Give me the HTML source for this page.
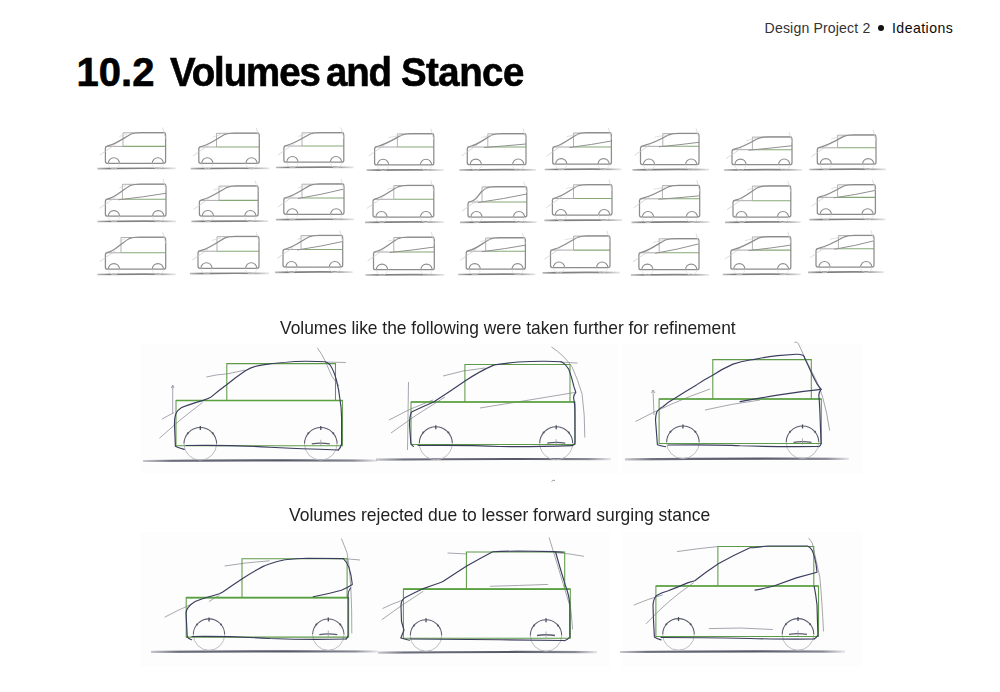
<!DOCTYPE html>
<html><head><meta charset="utf-8"><style>
html,body{margin:0;padding:0;background:#fff;}
body{width:1000px;height:692px;position:relative;overflow:hidden;font-family:"Liberation Sans",sans-serif;}
.t{position:absolute;white-space:pre;line-height:1;}
.h1{font-weight:bold;font-size:40px;color:#000;-webkit-text-stroke:0.6px #000;}
.cap{font-size:18.2px;color:#222;}
.hd{font-size:14.1px;}
.bg{position:absolute;background:#fdfdfd;}
svg{position:absolute;left:0;top:0;}
</style></head><body>
<div class="bg" style="left:141px;top:344px;width:250px;height:130px"></div>
<div class="bg" style="left:378px;top:344px;width:240px;height:130px"></div>
<div class="bg" style="left:622px;top:344px;width:240px;height:130px"></div>
<div class="bg" style="left:141px;top:532px;width:250px;height:135px"></div>
<div class="bg" style="left:378px;top:532px;width:232px;height:135px"></div>
<div class="bg" style="left:622px;top:532px;width:240px;height:135px"></div>
<div class="t hd" style="left:764.6px;top:21px;color:#333;letter-spacing:0.15px">Design Project 2</div>
<div style="position:absolute;left:878px;top:25px;width:6.2px;height:6.2px;border-radius:50%;background:#111"></div>
<div class="t hd" style="left:892px;top:21px;color:#0a0a0a;letter-spacing:0.45px">Ideations</div>
<div class="t h1" style="left:76.6px;top:52.3px">10.2</div>
<div class="t h1" style="left:170.2px;top:52.3px;letter-spacing:-1.1px;transform:scaleX(0.96);transform-origin:0 0">Volumes</div>
<div class="t h1" style="left:326px;top:52.3px;letter-spacing:-1.15px;transform:scaleX(0.96);transform-origin:0 0">and</div>
<div class="t h1" style="left:401px;top:52.3px;letter-spacing:-0.56px;transform:scaleX(0.96);transform-origin:0 0">Stance</div>
<div class="t cap" style="left:279.6px;top:319.1px;transform:scaleX(0.955);transform-origin:0 0">Volumes like the following were taken further for refinement</div>
<div class="t cap" style="left:289px;top:505.9px;transform:scaleX(0.962);transform-origin:0 0">Volumes rejected due to lesser forward surging stance</div>
<svg width="1000" height="692" viewBox="0 0 1000 692">
<defs><filter id="sb" x="-5%" y="-5%" width="110%" height="110%"><feGaussianBlur stdDeviation="0.35"/></filter><linearGradient id="sg" x1="0" y1="0" x2="1" y2="0"><stop offset="0" stop-color="#777" stop-opacity="0.5"/><stop offset="0.15" stop-color="#6e6e6e" stop-opacity="0.9"/><stop offset="0.75" stop-color="#747474" stop-opacity="0.85"/><stop offset="1" stop-color="#888" stop-opacity="0.2"/></linearGradient></defs>
<g filter="url(#sb)">
<path d="M97.4 168.6 Q135.5 168.0 175.6 168.4" stroke="url(#sg)" stroke-width="1.7" fill="none"/>
<path d="M123.0 146.4 L123.0 132.8 L164.6 132.8" stroke="#a8a8a8" stroke-width="0.9" fill="none"/>
<path d="M105.4 146.4 L123.0 146.4" stroke="#a0a0a0" stroke-width="0.9" fill="none"/>
<path d="M123.0 146.4 L165.6 146.4" stroke="#86a876" stroke-width="1.1" fill="none"/>
<path d="M107.4 163.3 Q105.4 163.3 105.4 161.3 L105.4 147.9 Q105.9 146.1 109.4 145.4 C115.4 144.2 123.0 138.5 131.0 134.0 Q135.0 132.5 141.0 132.5 L164.6 132.5 Q165.6 133.0 165.6 135.5 L165.6 161.3 Q165.6 163.3 163.6 163.3 Z" stroke="#8c8c8c" stroke-width="1.25" fill="none"/>
<path d="M108.3 163.3 A5.6 5.6 0 0 1 119.5 163.3" stroke="#8c8c8c" stroke-width="1.05" fill="none"/>
<path d="M108.3 163.3 A5.6 5.6 0 0 0 119.5 163.3" stroke="#dcdcdc" stroke-width="0.7" fill="none"/>
<path d="M152.2 163.3 A5.6 5.6 0 0 1 163.4 163.3" stroke="#8c8c8c" stroke-width="1.05" fill="none"/>
<path d="M152.2 163.3 A5.6 5.6 0 0 0 163.4 163.3" stroke="#dcdcdc" stroke-width="0.7" fill="none"/>
<path d="M99.4 155.4 L115.4 144.4" stroke="#cacaca" stroke-width="0.7" fill="none"/>
<path d="M119.4 136.5 L127.0 134.0" stroke="#d2d2d2" stroke-width="0.7" fill="none"/>
<path d="M162.6 127.5 L165.6 138.5" stroke="#d0d0d0" stroke-width="0.7" fill="none"/>
<path d="M190.8 168.6 Q229.1 168.0 269.3 168.4" stroke="url(#sg)" stroke-width="1.7" fill="none"/>
<path d="M216.5 147.0 L216.5 133.3 L258.3 133.3" stroke="#a8a8a8" stroke-width="0.9" fill="none"/>
<path d="M198.8 147.0 L216.5 147.0" stroke="#a0a0a0" stroke-width="0.9" fill="none"/>
<path d="M216.5 147.0 L259.3 147.0" stroke="#86a876" stroke-width="1.1" fill="none"/>
<path d="M200.8 163.3 Q198.8 163.3 198.8 161.3 L198.8 148.5 Q199.3 146.7 202.8 146.0 C208.8 144.8 216.5 139.0 224.5 134.5 Q228.5 133.0 234.5 133.0 L258.3 133.0 Q259.3 133.5 259.3 136.0 L259.3 161.3 Q259.3 163.3 257.3 163.3 Z" stroke="#8c8c8c" stroke-width="1.25" fill="none"/>
<path d="M201.7 163.3 A5.6 5.6 0 0 1 212.9 163.3" stroke="#8c8c8c" stroke-width="1.05" fill="none"/>
<path d="M201.7 163.3 A5.6 5.6 0 0 0 212.9 163.3" stroke="#dcdcdc" stroke-width="0.7" fill="none"/>
<path d="M245.9 163.3 A5.6 5.6 0 0 1 257.1 163.3" stroke="#8c8c8c" stroke-width="1.05" fill="none"/>
<path d="M245.9 163.3 A5.6 5.6 0 0 0 257.1 163.3" stroke="#dcdcdc" stroke-width="0.7" fill="none"/>
<path d="M192.8 156.0 L208.8 145.0" stroke="#cacaca" stroke-width="0.7" fill="none"/>
<path d="M212.8 137.0 L220.5 134.5" stroke="#d2d2d2" stroke-width="0.7" fill="none"/>
<path d="M256.3 128.0 L259.3 139.0" stroke="#d0d0d0" stroke-width="0.7" fill="none"/>
<path d="M275.9 167.5 Q313.9 166.9 353.8 167.3" stroke="url(#sg)" stroke-width="1.7" fill="none"/>
<path d="M302.0 146.0 L302.0 132.8 L342.8 132.8" stroke="#a8a8a8" stroke-width="0.9" fill="none"/>
<path d="M283.9 146.0 L302.0 146.0" stroke="#a0a0a0" stroke-width="0.9" fill="none"/>
<path d="M302.0 146.0 L343.8 146.0" stroke="#86a876" stroke-width="1.1" fill="none"/>
<path d="M285.9 162.2 Q283.9 162.2 283.9 160.2 L283.9 147.5 Q284.4 145.7 287.9 145.0 C293.9 143.8 302.0 138.5 310.0 134.0 Q314.0 132.5 320.0 132.5 L342.8 132.5 Q343.8 133.0 343.8 135.5 L343.8 160.2 Q343.8 162.2 341.8 162.2 Z" stroke="#8c8c8c" stroke-width="1.25" fill="none"/>
<path d="M286.8 162.2 A5.6 5.6 0 0 1 298.0 162.2" stroke="#8c8c8c" stroke-width="1.05" fill="none"/>
<path d="M286.8 162.2 A5.6 5.6 0 0 0 298.0 162.2" stroke="#dcdcdc" stroke-width="0.7" fill="none"/>
<path d="M330.4 162.2 A5.6 5.6 0 0 1 341.6 162.2" stroke="#8c8c8c" stroke-width="1.05" fill="none"/>
<path d="M330.4 162.2 A5.6 5.6 0 0 0 341.6 162.2" stroke="#dcdcdc" stroke-width="0.7" fill="none"/>
<path d="M277.9 155.0 L293.9 144.0" stroke="#cacaca" stroke-width="0.7" fill="none"/>
<path d="M297.9 136.5 L306.0 134.0" stroke="#d2d2d2" stroke-width="0.7" fill="none"/>
<path d="M340.8 127.5 L343.8 138.5" stroke="#d0d0d0" stroke-width="0.7" fill="none"/>
<path d="M97.4 221.5 Q135.7 220.9 176.0 221.3" stroke="url(#sg)" stroke-width="1.7" fill="none"/>
<path d="M122.4 199.3 L122.4 184.3 L165.0 184.3" stroke="#a8a8a8" stroke-width="0.9" fill="none"/>
<path d="M105.4 199.3 L122.4 199.3" stroke="#a0a0a0" stroke-width="0.9" fill="none"/>
<path d="M122.4 199.3 L166.0 199.3" stroke="#86a876" stroke-width="1.1" fill="none"/>
<path d="M118.4 199.8 Q144.2 196.9 166.0 193.3" stroke="#909090" stroke-width="1" fill="none"/>
<path d="M107.4 216.2 Q105.4 216.2 105.4 214.2 L105.4 200.8 Q105.9 199.0 109.4 198.3 C115.4 197.1 122.4 190.0 130.4 185.5 Q134.4 184.0 140.4 184.0 L165.0 184.0 Q166.0 184.5 166.0 187.0 L166.0 214.2 Q166.0 216.2 164.0 216.2 Z" stroke="#8c8c8c" stroke-width="1.25" fill="none"/>
<path d="M108.3 216.2 A5.6 5.6 0 0 1 119.5 216.2" stroke="#8c8c8c" stroke-width="1.05" fill="none"/>
<path d="M108.3 216.2 A5.6 5.6 0 0 0 119.5 216.2" stroke="#dcdcdc" stroke-width="0.7" fill="none"/>
<path d="M152.6 216.2 A5.6 5.6 0 0 1 163.8 216.2" stroke="#8c8c8c" stroke-width="1.05" fill="none"/>
<path d="M152.6 216.2 A5.6 5.6 0 0 0 163.8 216.2" stroke="#dcdcdc" stroke-width="0.7" fill="none"/>
<path d="M99.4 208.3 L115.4 197.3" stroke="#cacaca" stroke-width="0.7" fill="none"/>
<path d="M119.4 188.0 L126.4 185.5" stroke="#d2d2d2" stroke-width="0.7" fill="none"/>
<path d="M163.0 179.0 L166.0 190.0" stroke="#d0d0d0" stroke-width="0.7" fill="none"/>
<path d="M191.4 221.4 Q228.8 220.8 268.2 221.2" stroke="url(#sg)" stroke-width="1.7" fill="none"/>
<path d="M219.0 200.4 L219.0 186.1 L257.2 186.1" stroke="#a8a8a8" stroke-width="0.9" fill="none"/>
<path d="M199.4 200.4 L219.0 200.4" stroke="#a0a0a0" stroke-width="0.9" fill="none"/>
<path d="M219.0 200.4 L258.2 200.4" stroke="#86a876" stroke-width="1.1" fill="none"/>
<path d="M201.4 216.1 Q199.4 216.1 199.4 214.1 L199.4 201.9 Q199.9 200.1 203.4 199.4 C209.4 198.2 219.0 191.8 227.0 187.3 Q231.0 185.8 237.0 185.8 L257.2 185.8 Q258.2 186.3 258.2 188.8 L258.2 214.1 Q258.2 216.1 256.2 216.1 Z" stroke="#8c8c8c" stroke-width="1.25" fill="none"/>
<path d="M202.3 216.1 A5.6 5.6 0 0 1 213.5 216.1" stroke="#8c8c8c" stroke-width="1.05" fill="none"/>
<path d="M202.3 216.1 A5.6 5.6 0 0 0 213.5 216.1" stroke="#dcdcdc" stroke-width="0.7" fill="none"/>
<path d="M244.8 216.1 A5.6 5.6 0 0 1 256.0 216.1" stroke="#8c8c8c" stroke-width="1.05" fill="none"/>
<path d="M244.8 216.1 A5.6 5.6 0 0 0 256.0 216.1" stroke="#dcdcdc" stroke-width="0.7" fill="none"/>
<path d="M193.4 209.4 L209.4 198.4" stroke="#cacaca" stroke-width="0.7" fill="none"/>
<path d="M213.4 189.8 L223.0 187.3" stroke="#d2d2d2" stroke-width="0.7" fill="none"/>
<path d="M255.2 180.8 L258.2 191.8" stroke="#d0d0d0" stroke-width="0.7" fill="none"/>
<path d="M275.8 219.6 Q313.9 219.0 354.0 219.4" stroke="url(#sg)" stroke-width="1.7" fill="none"/>
<path d="M302.0 198.0 L302.0 184.2 L343.0 184.2" stroke="#a8a8a8" stroke-width="0.9" fill="none"/>
<path d="M283.8 198.0 L302.0 198.0" stroke="#a0a0a0" stroke-width="0.9" fill="none"/>
<path d="M302.0 198.0 L344.0 198.0" stroke="#86a876" stroke-width="1.1" fill="none"/>
<path d="M298.0 198.5 Q323.0 194.4 344.0 189.0" stroke="#909090" stroke-width="1" fill="none"/>
<path d="M285.8 214.3 Q283.8 214.3 283.8 212.3 L283.8 199.5 Q284.3 197.7 287.8 197.0 C293.8 195.8 302.0 189.9 310.0 185.4 Q314.0 183.9 320.0 183.9 L343.0 183.9 Q344.0 184.4 344.0 186.9 L344.0 212.3 Q344.0 214.3 342.0 214.3 Z" stroke="#8c8c8c" stroke-width="1.25" fill="none"/>
<path d="M286.7 214.3 A5.6 5.6 0 0 1 297.9 214.3" stroke="#8c8c8c" stroke-width="1.05" fill="none"/>
<path d="M286.7 214.3 A5.6 5.6 0 0 0 297.9 214.3" stroke="#dcdcdc" stroke-width="0.7" fill="none"/>
<path d="M330.6 214.3 A5.6 5.6 0 0 1 341.8 214.3" stroke="#8c8c8c" stroke-width="1.05" fill="none"/>
<path d="M330.6 214.3 A5.6 5.6 0 0 0 341.8 214.3" stroke="#dcdcdc" stroke-width="0.7" fill="none"/>
<path d="M277.8 207.0 L293.8 196.0" stroke="#cacaca" stroke-width="0.7" fill="none"/>
<path d="M297.8 187.9 L306.0 185.4" stroke="#d2d2d2" stroke-width="0.7" fill="none"/>
<path d="M341.0 178.9 L344.0 189.9" stroke="#d0d0d0" stroke-width="0.7" fill="none"/>
<path d="M97.4 274.5 Q135.6 273.9 175.7 274.3" stroke="url(#sg)" stroke-width="1.7" fill="none"/>
<path d="M121.0 252.8 L121.0 237.5 L164.7 237.5" stroke="#a8a8a8" stroke-width="0.9" fill="none"/>
<path d="M105.4 252.8 L121.0 252.8" stroke="#a0a0a0" stroke-width="0.9" fill="none"/>
<path d="M121.0 252.8 L165.7 252.8" stroke="#86a876" stroke-width="1.1" fill="none"/>
<path d="M107.4 269.2 Q105.4 269.2 105.4 267.2 L105.4 254.3 Q105.9 252.5 109.4 251.8 C115.4 250.6 121.0 243.2 129.0 238.7 Q133.0 237.2 139.0 237.2 L164.7 237.2 Q165.7 237.7 165.7 240.2 L165.7 267.2 Q165.7 269.2 163.7 269.2 Z" stroke="#8c8c8c" stroke-width="1.25" fill="none"/>
<path d="M108.3 269.2 A5.6 5.6 0 0 1 119.5 269.2" stroke="#8c8c8c" stroke-width="1.05" fill="none"/>
<path d="M108.3 269.2 A5.6 5.6 0 0 0 119.5 269.2" stroke="#dcdcdc" stroke-width="0.7" fill="none"/>
<path d="M152.3 269.2 A5.6 5.6 0 0 1 163.5 269.2" stroke="#8c8c8c" stroke-width="1.05" fill="none"/>
<path d="M152.3 269.2 A5.6 5.6 0 0 0 163.5 269.2" stroke="#dcdcdc" stroke-width="0.7" fill="none"/>
<path d="M99.4 261.8 L115.4 250.8" stroke="#cacaca" stroke-width="0.7" fill="none"/>
<path d="M119.4 241.2 L125.0 238.7" stroke="#d2d2d2" stroke-width="0.7" fill="none"/>
<path d="M162.7 232.2 L165.7 243.2" stroke="#d0d0d0" stroke-width="0.7" fill="none"/>
<path d="M190.0 273.6 Q228.5 273.0 269.0 273.4" stroke="url(#sg)" stroke-width="1.7" fill="none"/>
<path d="M217.0 251.2 L217.0 236.7 L258.0 236.7" stroke="#a8a8a8" stroke-width="0.9" fill="none"/>
<path d="M198.0 251.2 L217.0 251.2" stroke="#a0a0a0" stroke-width="0.9" fill="none"/>
<path d="M217.0 251.2 L259.0 251.2" stroke="#86a876" stroke-width="1.1" fill="none"/>
<path d="M200.0 268.3 Q198.0 268.3 198.0 266.3 L198.0 252.7 Q198.5 250.9 202.0 250.2 C208.0 249.0 217.0 242.4 225.0 237.9 Q229.0 236.4 235.0 236.4 L258.0 236.4 Q259.0 236.9 259.0 239.4 L259.0 266.3 Q259.0 268.3 257.0 268.3 Z" stroke="#8c8c8c" stroke-width="1.25" fill="none"/>
<path d="M200.9 268.3 A5.6 5.6 0 0 1 212.1 268.3" stroke="#8c8c8c" stroke-width="1.05" fill="none"/>
<path d="M200.9 268.3 A5.6 5.6 0 0 0 212.1 268.3" stroke="#dcdcdc" stroke-width="0.7" fill="none"/>
<path d="M245.6 268.3 A5.6 5.6 0 0 1 256.8 268.3" stroke="#8c8c8c" stroke-width="1.05" fill="none"/>
<path d="M245.6 268.3 A5.6 5.6 0 0 0 256.8 268.3" stroke="#dcdcdc" stroke-width="0.7" fill="none"/>
<path d="M192.0 260.2 L208.0 249.2" stroke="#cacaca" stroke-width="0.7" fill="none"/>
<path d="M212.0 240.4 L221.0 237.9" stroke="#d2d2d2" stroke-width="0.7" fill="none"/>
<path d="M256.0 231.4 L259.0 242.4" stroke="#d0d0d0" stroke-width="0.7" fill="none"/>
<path d="M275.0 272.3 Q312.9 271.7 352.7 272.1" stroke="url(#sg)" stroke-width="1.7" fill="none"/>
<path d="M301.0 249.5 L301.0 235.6 L341.7 235.6" stroke="#a8a8a8" stroke-width="0.9" fill="none"/>
<path d="M283.0 249.5 L301.0 249.5" stroke="#a0a0a0" stroke-width="0.9" fill="none"/>
<path d="M301.0 249.5 L342.7 249.5" stroke="#86a876" stroke-width="1.1" fill="none"/>
<path d="M297.0 250.0 Q321.9 246.3 342.7 241.5" stroke="#909090" stroke-width="1" fill="none"/>
<path d="M285.0 267.0 Q283.0 267.0 283.0 265.0 L283.0 251.0 Q283.5 249.2 287.0 248.5 C293.0 247.3 301.0 241.3 309.0 236.8 Q313.0 235.3 319.0 235.3 L341.7 235.3 Q342.7 235.8 342.7 238.3 L342.7 265.0 Q342.7 267.0 340.7 267.0 Z" stroke="#8c8c8c" stroke-width="1.25" fill="none"/>
<path d="M285.9 267.0 A5.6 5.6 0 0 1 297.1 267.0" stroke="#8c8c8c" stroke-width="1.05" fill="none"/>
<path d="M285.9 267.0 A5.6 5.6 0 0 0 297.1 267.0" stroke="#dcdcdc" stroke-width="0.7" fill="none"/>
<path d="M329.3 267.0 A5.6 5.6 0 0 1 340.5 267.0" stroke="#8c8c8c" stroke-width="1.05" fill="none"/>
<path d="M329.3 267.0 A5.6 5.6 0 0 0 340.5 267.0" stroke="#dcdcdc" stroke-width="0.7" fill="none"/>
<path d="M277.0 258.5 L293.0 247.5" stroke="#cacaca" stroke-width="0.7" fill="none"/>
<path d="M297.0 239.3 L305.0 236.8" stroke="#d2d2d2" stroke-width="0.7" fill="none"/>
<path d="M339.7 230.3 L342.7 241.3" stroke="#d0d0d0" stroke-width="0.7" fill="none"/>
<path d="M366.6 170.2 Q404.2 169.6 443.8 170.0" stroke="url(#sg)" stroke-width="1.7" fill="none"/>
<path d="M397.4 147.0 L397.4 133.9 L432.8 133.9" stroke="#a8a8a8" stroke-width="0.9" fill="none"/>
<path d="M374.6 147.0 L397.4 147.0" stroke="#a0a0a0" stroke-width="0.9" fill="none"/>
<path d="M397.4 147.0 L433.8 147.0" stroke="#86a876" stroke-width="1.1" fill="none"/>
<path d="M376.6 164.9 Q374.6 164.9 374.6 162.9 L374.6 148.5 Q375.1 146.7 378.6 146.0 C384.6 144.8 393.4 139.6 401.4 135.1 Q405.4 133.6 411.4 133.6 L432.8 133.6 Q433.8 134.1 433.8 136.6 L433.8 162.9 Q433.8 164.9 431.8 164.9 Z" stroke="#8c8c8c" stroke-width="1.25" fill="none"/>
<path d="M377.5 164.9 A5.6 5.6 0 0 1 388.7 164.9" stroke="#8c8c8c" stroke-width="1.05" fill="none"/>
<path d="M377.5 164.9 A5.6 5.6 0 0 0 388.7 164.9" stroke="#dcdcdc" stroke-width="0.7" fill="none"/>
<path d="M420.4 164.9 A5.6 5.6 0 0 1 431.6 164.9" stroke="#8c8c8c" stroke-width="1.05" fill="none"/>
<path d="M420.4 164.9 A5.6 5.6 0 0 0 431.6 164.9" stroke="#dcdcdc" stroke-width="0.7" fill="none"/>
<path d="M368.6 156.0 L384.6 145.0" stroke="#cacaca" stroke-width="0.7" fill="none"/>
<path d="M388.6 137.6 L401.4 135.1" stroke="#d2d2d2" stroke-width="0.7" fill="none"/>
<path d="M430.8 128.6 L433.8 139.6" stroke="#d0d0d0" stroke-width="0.7" fill="none"/>
<path d="M459.3 170.0 Q496.6 169.4 536.0 169.8" stroke="url(#sg)" stroke-width="1.7" fill="none"/>
<path d="M487.8 147.0 L487.8 133.8 L525.0 133.8" stroke="#a8a8a8" stroke-width="0.9" fill="none"/>
<path d="M467.3 147.0 L487.8 147.0" stroke="#a0a0a0" stroke-width="0.9" fill="none"/>
<path d="M487.8 147.0 L526.0 147.0" stroke="#86a876" stroke-width="1.1" fill="none"/>
<path d="M483.8 147.5 Q506.9 145.8 526.0 144.0" stroke="#909090" stroke-width="1" fill="none"/>
<path d="M469.3 164.7 Q467.3 164.7 467.3 162.7 L467.3 148.5 Q467.8 146.7 471.3 146.0 C477.3 144.8 483.8 139.5 491.8 135.0 Q495.8 133.5 501.8 133.5 L525.0 133.5 Q526.0 134.0 526.0 136.5 L526.0 162.7 Q526.0 164.7 524.0 164.7 Z" stroke="#8c8c8c" stroke-width="1.25" fill="none"/>
<path d="M470.2 164.7 A5.6 5.6 0 0 1 481.4 164.7" stroke="#8c8c8c" stroke-width="1.05" fill="none"/>
<path d="M470.2 164.7 A5.6 5.6 0 0 0 481.4 164.7" stroke="#dcdcdc" stroke-width="0.7" fill="none"/>
<path d="M512.6 164.7 A5.6 5.6 0 0 1 523.8 164.7" stroke="#8c8c8c" stroke-width="1.05" fill="none"/>
<path d="M512.6 164.7 A5.6 5.6 0 0 0 523.8 164.7" stroke="#dcdcdc" stroke-width="0.7" fill="none"/>
<path d="M461.3 156.0 L477.3 145.0" stroke="#cacaca" stroke-width="0.7" fill="none"/>
<path d="M481.3 137.5 L491.8 135.0" stroke="#d2d2d2" stroke-width="0.7" fill="none"/>
<path d="M523.0 128.5 L526.0 139.5" stroke="#d0d0d0" stroke-width="0.7" fill="none"/>
<path d="M544.7 169.5 Q582.0 168.9 621.4 169.3" stroke="url(#sg)" stroke-width="1.7" fill="none"/>
<path d="M573.5 147.0 L573.5 133.0 L610.4 133.0" stroke="#a8a8a8" stroke-width="0.9" fill="none"/>
<path d="M552.7 147.0 L573.5 147.0" stroke="#a0a0a0" stroke-width="0.9" fill="none"/>
<path d="M573.5 147.0 L611.4 147.0" stroke="#86a876" stroke-width="1.1" fill="none"/>
<path d="M569.5 147.5 Q592.5 144.6 611.4 141.0" stroke="#909090" stroke-width="1" fill="none"/>
<path d="M554.7 164.2 Q552.7 164.2 552.7 162.2 L552.7 148.5 Q553.2 146.7 556.7 146.0 C562.7 144.8 569.5 138.7 577.5 134.2 Q581.5 132.7 587.5 132.7 L610.4 132.7 Q611.4 133.2 611.4 135.7 L611.4 162.2 Q611.4 164.2 609.4 164.2 Z" stroke="#8c8c8c" stroke-width="1.25" fill="none"/>
<path d="M555.6 164.2 A5.6 5.6 0 0 1 566.8 164.2" stroke="#8c8c8c" stroke-width="1.05" fill="none"/>
<path d="M555.6 164.2 A5.6 5.6 0 0 0 566.8 164.2" stroke="#dcdcdc" stroke-width="0.7" fill="none"/>
<path d="M598.0 164.2 A5.6 5.6 0 0 1 609.2 164.2" stroke="#8c8c8c" stroke-width="1.05" fill="none"/>
<path d="M598.0 164.2 A5.6 5.6 0 0 0 609.2 164.2" stroke="#dcdcdc" stroke-width="0.7" fill="none"/>
<path d="M546.7 156.0 L562.7 145.0" stroke="#cacaca" stroke-width="0.7" fill="none"/>
<path d="M566.7 136.7 L577.5 134.2" stroke="#d2d2d2" stroke-width="0.7" fill="none"/>
<path d="M608.4 127.7 L611.4 138.7" stroke="#d0d0d0" stroke-width="0.7" fill="none"/>
<path d="M365.0 222.3 Q403.4 221.7 443.8 222.1" stroke="url(#sg)" stroke-width="1.7" fill="none"/>
<path d="M393.8 199.3 L393.8 185.6 L432.8 185.6" stroke="#a8a8a8" stroke-width="0.9" fill="none"/>
<path d="M373.0 199.3 L393.8 199.3" stroke="#a0a0a0" stroke-width="0.9" fill="none"/>
<path d="M393.8 199.3 L433.8 199.3" stroke="#86a876" stroke-width="1.1" fill="none"/>
<path d="M375.0 217.0 Q373.0 217.0 373.0 215.0 L373.0 200.8 Q373.5 199.0 377.0 198.3 C383.0 197.1 389.8 191.3 397.8 186.8 Q401.8 185.3 407.8 185.3 L432.8 185.3 Q433.8 185.8 433.8 188.3 L433.8 215.0 Q433.8 217.0 431.8 217.0 Z" stroke="#8c8c8c" stroke-width="1.25" fill="none"/>
<path d="M375.9 217.0 A5.6 5.6 0 0 1 387.1 217.0" stroke="#8c8c8c" stroke-width="1.05" fill="none"/>
<path d="M375.9 217.0 A5.6 5.6 0 0 0 387.1 217.0" stroke="#dcdcdc" stroke-width="0.7" fill="none"/>
<path d="M420.4 217.0 A5.6 5.6 0 0 1 431.6 217.0" stroke="#8c8c8c" stroke-width="1.05" fill="none"/>
<path d="M420.4 217.0 A5.6 5.6 0 0 0 431.6 217.0" stroke="#dcdcdc" stroke-width="0.7" fill="none"/>
<path d="M367.0 208.3 L383.0 197.3" stroke="#cacaca" stroke-width="0.7" fill="none"/>
<path d="M387.0 189.3 L397.8 186.8" stroke="#d2d2d2" stroke-width="0.7" fill="none"/>
<path d="M430.8 180.3 L433.8 191.3" stroke="#d0d0d0" stroke-width="0.7" fill="none"/>
<path d="M460.0 222.3 Q497.4 221.7 536.8 222.1" stroke="url(#sg)" stroke-width="1.7" fill="none"/>
<path d="M482.0 202.0 L482.0 186.9 L525.8 186.9" stroke="#a8a8a8" stroke-width="0.9" fill="none"/>
<path d="M468.0 202.0 L482.0 202.0" stroke="#a0a0a0" stroke-width="0.9" fill="none"/>
<path d="M482.0 202.0 L526.8 202.0" stroke="#86a876" stroke-width="1.1" fill="none"/>
<path d="M478.0 202.5 Q504.4 198.8 526.8 194.0" stroke="#909090" stroke-width="1" fill="none"/>
<path d="M470.0 217.0 Q468.0 217.0 468.0 215.0 L468.0 203.5 Q468.5 201.7 472.0 201.0 C478.0 199.8 478.0 192.6 486.0 188.1 Q490.0 186.6 496.0 186.6 L525.8 186.6 Q526.8 187.1 526.8 189.6 L526.8 215.0 Q526.8 217.0 524.8 217.0 Z" stroke="#8c8c8c" stroke-width="1.25" fill="none"/>
<path d="M470.9 217.0 A5.6 5.6 0 0 1 482.1 217.0" stroke="#8c8c8c" stroke-width="1.05" fill="none"/>
<path d="M470.9 217.0 A5.6 5.6 0 0 0 482.1 217.0" stroke="#dcdcdc" stroke-width="0.7" fill="none"/>
<path d="M513.4 217.0 A5.6 5.6 0 0 1 524.6 217.0" stroke="#8c8c8c" stroke-width="1.05" fill="none"/>
<path d="M513.4 217.0 A5.6 5.6 0 0 0 524.6 217.0" stroke="#dcdcdc" stroke-width="0.7" fill="none"/>
<path d="M462.0 211.0 L478.0 200.0" stroke="#cacaca" stroke-width="0.7" fill="none"/>
<path d="M482.0 190.6 L486.0 188.1" stroke="#d2d2d2" stroke-width="0.7" fill="none"/>
<path d="M523.8 181.6 L526.8 192.6" stroke="#d0d0d0" stroke-width="0.7" fill="none"/>
<path d="M544.4 220.4 Q582.2 219.8 622.0 220.2" stroke="url(#sg)" stroke-width="1.7" fill="none"/>
<path d="M573.5 198.5 L573.5 184.8 L611.0 184.8" stroke="#a8a8a8" stroke-width="0.9" fill="none"/>
<path d="M552.4 198.5 L573.5 198.5" stroke="#a0a0a0" stroke-width="0.9" fill="none"/>
<path d="M573.5 198.5 L612.0 198.5" stroke="#86a876" stroke-width="1.1" fill="none"/>
<path d="M554.4 215.1 Q552.4 215.1 552.4 213.1 L552.4 200.0 Q552.9 198.2 556.4 197.5 C562.4 196.3 569.5 190.5 577.5 186.0 Q581.5 184.5 587.5 184.5 L611.0 184.5 Q612.0 185.0 612.0 187.5 L612.0 213.1 Q612.0 215.1 610.0 215.1 Z" stroke="#8c8c8c" stroke-width="1.25" fill="none"/>
<path d="M555.3 215.1 A5.6 5.6 0 0 1 566.5 215.1" stroke="#8c8c8c" stroke-width="1.05" fill="none"/>
<path d="M555.3 215.1 A5.6 5.6 0 0 0 566.5 215.1" stroke="#dcdcdc" stroke-width="0.7" fill="none"/>
<path d="M598.6 215.1 A5.6 5.6 0 0 1 609.8 215.1" stroke="#8c8c8c" stroke-width="1.05" fill="none"/>
<path d="M598.6 215.1 A5.6 5.6 0 0 0 609.8 215.1" stroke="#dcdcdc" stroke-width="0.7" fill="none"/>
<path d="M546.4 207.5 L562.4 196.5" stroke="#cacaca" stroke-width="0.7" fill="none"/>
<path d="M566.4 188.5 L577.5 186.0" stroke="#d2d2d2" stroke-width="0.7" fill="none"/>
<path d="M609.0 179.5 L612.0 190.5" stroke="#d0d0d0" stroke-width="0.7" fill="none"/>
<path d="M365.5 275.0 Q403.9 274.4 444.3 274.8" stroke="url(#sg)" stroke-width="1.7" fill="none"/>
<path d="M393.8 252.0 L393.8 237.5 L433.3 237.5" stroke="#a8a8a8" stroke-width="0.9" fill="none"/>
<path d="M373.5 252.0 L393.8 252.0" stroke="#a0a0a0" stroke-width="0.9" fill="none"/>
<path d="M393.8 252.0 L434.3 252.0" stroke="#86a876" stroke-width="1.1" fill="none"/>
<path d="M389.8 252.5 Q414.1 250.0 434.3 247.0" stroke="#909090" stroke-width="1" fill="none"/>
<path d="M375.5 269.7 Q373.5 269.7 373.5 267.7 L373.5 253.5 Q374.0 251.7 377.5 251.0 C383.5 249.8 389.8 243.2 397.8 238.7 Q401.8 237.2 407.8 237.2 L433.3 237.2 Q434.3 237.7 434.3 240.2 L434.3 267.7 Q434.3 269.7 432.3 269.7 Z" stroke="#8c8c8c" stroke-width="1.25" fill="none"/>
<path d="M376.4 269.7 A5.6 5.6 0 0 1 387.6 269.7" stroke="#8c8c8c" stroke-width="1.05" fill="none"/>
<path d="M376.4 269.7 A5.6 5.6 0 0 0 387.6 269.7" stroke="#dcdcdc" stroke-width="0.7" fill="none"/>
<path d="M420.9 269.7 A5.6 5.6 0 0 1 432.1 269.7" stroke="#8c8c8c" stroke-width="1.05" fill="none"/>
<path d="M420.9 269.7 A5.6 5.6 0 0 0 432.1 269.7" stroke="#dcdcdc" stroke-width="0.7" fill="none"/>
<path d="M367.5 261.0 L383.5 250.0" stroke="#cacaca" stroke-width="0.7" fill="none"/>
<path d="M387.5 241.2 L397.8 238.7" stroke="#d2d2d2" stroke-width="0.7" fill="none"/>
<path d="M431.3 232.2 L434.3 243.2" stroke="#d0d0d0" stroke-width="0.7" fill="none"/>
<path d="M458.2 274.5 Q495.8 273.9 535.4 274.3" stroke="url(#sg)" stroke-width="1.7" fill="none"/>
<path d="M485.7 251.2 L485.7 238.0 L524.4 238.0" stroke="#a8a8a8" stroke-width="0.9" fill="none"/>
<path d="M466.2 251.2 L485.7 251.2" stroke="#a0a0a0" stroke-width="0.9" fill="none"/>
<path d="M485.7 251.2 L525.4 251.2" stroke="#86a876" stroke-width="1.1" fill="none"/>
<path d="M481.7 251.7 Q505.5 248.8 525.4 245.2" stroke="#909090" stroke-width="1" fill="none"/>
<path d="M468.2 269.2 Q466.2 269.2 466.2 267.2 L466.2 252.7 Q466.7 250.9 470.2 250.2 C476.2 249.0 481.7 243.7 489.7 239.2 Q493.7 237.7 499.7 237.7 L524.4 237.7 Q525.4 238.2 525.4 240.7 L525.4 267.2 Q525.4 269.2 523.4 269.2 Z" stroke="#8c8c8c" stroke-width="1.25" fill="none"/>
<path d="M469.1 269.2 A5.6 5.6 0 0 1 480.3 269.2" stroke="#8c8c8c" stroke-width="1.05" fill="none"/>
<path d="M469.1 269.2 A5.6 5.6 0 0 0 480.3 269.2" stroke="#dcdcdc" stroke-width="0.7" fill="none"/>
<path d="M512.0 269.2 A5.6 5.6 0 0 1 523.2 269.2" stroke="#8c8c8c" stroke-width="1.05" fill="none"/>
<path d="M512.0 269.2 A5.6 5.6 0 0 0 523.2 269.2" stroke="#dcdcdc" stroke-width="0.7" fill="none"/>
<path d="M460.2 260.2 L476.2 249.2" stroke="#cacaca" stroke-width="0.7" fill="none"/>
<path d="M480.2 241.7 L489.7 239.2" stroke="#d2d2d2" stroke-width="0.7" fill="none"/>
<path d="M522.4 232.7 L525.4 243.7" stroke="#d0d0d0" stroke-width="0.7" fill="none"/>
<path d="M542.5 272.8 Q580.2 272.2 620.0 272.6" stroke="url(#sg)" stroke-width="1.7" fill="none"/>
<path d="M573.5 250.1 L573.5 236.1 L609.0 236.1" stroke="#a8a8a8" stroke-width="0.9" fill="none"/>
<path d="M550.5 250.1 L573.5 250.1" stroke="#a0a0a0" stroke-width="0.9" fill="none"/>
<path d="M573.5 250.1 L610.0 250.1" stroke="#86a876" stroke-width="1.1" fill="none"/>
<path d="M552.5 267.5 Q550.5 267.5 550.5 265.5 L550.5 251.6 Q551.0 249.8 554.5 249.1 C560.5 247.9 569.5 241.8 577.5 237.3 Q581.5 235.8 587.5 235.8 L609.0 235.8 Q610.0 236.3 610.0 238.8 L610.0 265.5 Q610.0 267.5 608.0 267.5 Z" stroke="#8c8c8c" stroke-width="1.25" fill="none"/>
<path d="M553.4 267.5 A5.6 5.6 0 0 1 564.6 267.5" stroke="#8c8c8c" stroke-width="1.05" fill="none"/>
<path d="M553.4 267.5 A5.6 5.6 0 0 0 564.6 267.5" stroke="#dcdcdc" stroke-width="0.7" fill="none"/>
<path d="M596.6 267.5 A5.6 5.6 0 0 1 607.8 267.5" stroke="#8c8c8c" stroke-width="1.05" fill="none"/>
<path d="M596.6 267.5 A5.6 5.6 0 0 0 607.8 267.5" stroke="#dcdcdc" stroke-width="0.7" fill="none"/>
<path d="M544.5 259.1 L560.5 248.1" stroke="#cacaca" stroke-width="0.7" fill="none"/>
<path d="M564.5 239.8 L577.5 237.3" stroke="#d2d2d2" stroke-width="0.7" fill="none"/>
<path d="M607.0 230.8 L610.0 241.8" stroke="#d0d0d0" stroke-width="0.7" fill="none"/>
<path d="M632.5 169.8 Q669.8 169.2 709.0 169.6" stroke="url(#sg)" stroke-width="1.7" fill="none"/>
<path d="M662.8 146.3 L662.8 133.6 L698.0 133.6" stroke="#a8a8a8" stroke-width="0.9" fill="none"/>
<path d="M640.5 146.3 L662.8 146.3" stroke="#a0a0a0" stroke-width="0.9" fill="none"/>
<path d="M662.8 146.3 L699.0 146.3" stroke="#86a876" stroke-width="1.1" fill="none"/>
<path d="M658.8 146.8 Q680.9 144.7 699.0 142.3" stroke="#909090" stroke-width="1" fill="none"/>
<path d="M642.5 164.5 Q640.5 164.5 640.5 162.5 L640.5 147.8 Q641.0 146.0 644.5 145.3 C650.5 144.1 660.8 139.3 668.8 134.8 Q672.8 133.3 678.8 133.3 L698.0 133.3 Q699.0 133.8 699.0 136.3 L699.0 162.5 Q699.0 164.5 697.0 164.5 Z" stroke="#8c8c8c" stroke-width="1.25" fill="none"/>
<path d="M643.4 164.5 A5.6 5.6 0 0 1 654.6 164.5" stroke="#8c8c8c" stroke-width="1.05" fill="none"/>
<path d="M643.4 164.5 A5.6 5.6 0 0 0 654.6 164.5" stroke="#dcdcdc" stroke-width="0.7" fill="none"/>
<path d="M685.6 164.5 A5.6 5.6 0 0 1 696.8 164.5" stroke="#8c8c8c" stroke-width="1.05" fill="none"/>
<path d="M685.6 164.5 A5.6 5.6 0 0 0 696.8 164.5" stroke="#dcdcdc" stroke-width="0.7" fill="none"/>
<path d="M634.5 155.3 L650.5 144.3" stroke="#cacaca" stroke-width="0.7" fill="none"/>
<path d="M654.5 137.3 L666.8 134.8" stroke="#d2d2d2" stroke-width="0.7" fill="none"/>
<path d="M696.0 128.3 L699.0 139.3" stroke="#d0d0d0" stroke-width="0.7" fill="none"/>
<path d="M724.0 170.0 Q762.0 169.4 802.0 169.8" stroke="url(#sg)" stroke-width="1.7" fill="none"/>
<path d="M752.4 149.7 L752.4 137.1 L791.0 137.1" stroke="#a8a8a8" stroke-width="0.9" fill="none"/>
<path d="M732.0 149.7 L752.4 149.7" stroke="#a0a0a0" stroke-width="0.9" fill="none"/>
<path d="M752.4 149.7 L792.0 149.7" stroke="#86a876" stroke-width="1.1" fill="none"/>
<path d="M748.4 150.2 Q772.2 148.1 792.0 145.7" stroke="#909090" stroke-width="1" fill="none"/>
<path d="M734.0 164.7 Q732.0 164.7 732.0 162.7 L732.0 151.2 Q732.5 149.4 736.0 148.7 C742.0 147.5 750.4 142.8 758.4 138.3 Q762.4 136.8 768.4 136.8 L791.0 136.8 Q792.0 137.3 792.0 139.8 L792.0 162.7 Q792.0 164.7 790.0 164.7 Z" stroke="#8c8c8c" stroke-width="1.25" fill="none"/>
<path d="M734.9 164.7 A5.6 5.6 0 0 1 746.1 164.7" stroke="#8c8c8c" stroke-width="1.05" fill="none"/>
<path d="M734.9 164.7 A5.6 5.6 0 0 0 746.1 164.7" stroke="#dcdcdc" stroke-width="0.7" fill="none"/>
<path d="M778.6 164.7 A5.6 5.6 0 0 1 789.8 164.7" stroke="#8c8c8c" stroke-width="1.05" fill="none"/>
<path d="M778.6 164.7 A5.6 5.6 0 0 0 789.8 164.7" stroke="#dcdcdc" stroke-width="0.7" fill="none"/>
<path d="M726.0 158.7 L742.0 147.7" stroke="#cacaca" stroke-width="0.7" fill="none"/>
<path d="M746.0 140.8 L756.4 138.3" stroke="#d2d2d2" stroke-width="0.7" fill="none"/>
<path d="M789.0 131.8 L792.0 142.8" stroke="#d0d0d0" stroke-width="0.7" fill="none"/>
<path d="M809.3 169.5 Q846.6 168.9 886.0 169.3" stroke="url(#sg)" stroke-width="1.7" fill="none"/>
<path d="M837.6 147.8 L837.6 135.2 L875.0 135.2" stroke="#a8a8a8" stroke-width="0.9" fill="none"/>
<path d="M817.3 147.8 L837.6 147.8" stroke="#a0a0a0" stroke-width="0.9" fill="none"/>
<path d="M837.6 147.8 L876.0 147.8" stroke="#86a876" stroke-width="1.1" fill="none"/>
<path d="M819.3 164.2 Q817.3 164.2 817.3 162.2 L817.3 149.3 Q817.8 147.5 821.3 146.8 C827.3 145.6 835.6 140.9 843.6 136.4 Q847.6 134.9 853.6 134.9 L875.0 134.9 Q876.0 135.4 876.0 137.9 L876.0 162.2 Q876.0 164.2 874.0 164.2 Z" stroke="#8c8c8c" stroke-width="1.25" fill="none"/>
<path d="M820.2 164.2 A5.6 5.6 0 0 1 831.4 164.2" stroke="#8c8c8c" stroke-width="1.05" fill="none"/>
<path d="M820.2 164.2 A5.6 5.6 0 0 0 831.4 164.2" stroke="#dcdcdc" stroke-width="0.7" fill="none"/>
<path d="M862.6 164.2 A5.6 5.6 0 0 1 873.8 164.2" stroke="#8c8c8c" stroke-width="1.05" fill="none"/>
<path d="M862.6 164.2 A5.6 5.6 0 0 0 873.8 164.2" stroke="#dcdcdc" stroke-width="0.7" fill="none"/>
<path d="M811.3 156.8 L827.3 145.8" stroke="#cacaca" stroke-width="0.7" fill="none"/>
<path d="M831.3 138.9 L841.6 136.4" stroke="#d2d2d2" stroke-width="0.7" fill="none"/>
<path d="M873.0 129.9 L876.0 140.9" stroke="#d0d0d0" stroke-width="0.7" fill="none"/>
<path d="M631.5 222.3 Q669.6 221.7 709.7 222.1" stroke="url(#sg)" stroke-width="1.7" fill="none"/>
<path d="M662.4 198.8 L662.4 185.6 L698.7 185.6" stroke="#a8a8a8" stroke-width="0.9" fill="none"/>
<path d="M639.5 198.8 L662.4 198.8" stroke="#a0a0a0" stroke-width="0.9" fill="none"/>
<path d="M662.4 198.8 L699.7 198.8" stroke="#86a876" stroke-width="1.1" fill="none"/>
<path d="M658.4 199.3 Q681.0 197.6 699.7 195.8" stroke="#909090" stroke-width="1" fill="none"/>
<path d="M641.5 217.0 Q639.5 217.0 639.5 215.0 L639.5 200.3 Q640.0 198.5 643.5 197.8 C649.5 196.6 660.4 191.3 668.4 186.8 Q672.4 185.3 678.4 185.3 L698.7 185.3 Q699.7 185.8 699.7 188.3 L699.7 215.0 Q699.7 217.0 697.7 217.0 Z" stroke="#8c8c8c" stroke-width="1.25" fill="none"/>
<path d="M642.4 217.0 A5.6 5.6 0 0 1 653.6 217.0" stroke="#8c8c8c" stroke-width="1.05" fill="none"/>
<path d="M642.4 217.0 A5.6 5.6 0 0 0 653.6 217.0" stroke="#dcdcdc" stroke-width="0.7" fill="none"/>
<path d="M686.3 217.0 A5.6 5.6 0 0 1 697.5 217.0" stroke="#8c8c8c" stroke-width="1.05" fill="none"/>
<path d="M686.3 217.0 A5.6 5.6 0 0 0 697.5 217.0" stroke="#dcdcdc" stroke-width="0.7" fill="none"/>
<path d="M633.5 207.8 L649.5 196.8" stroke="#cacaca" stroke-width="0.7" fill="none"/>
<path d="M653.5 189.3 L666.4 186.8" stroke="#d2d2d2" stroke-width="0.7" fill="none"/>
<path d="M696.7 180.3 L699.7 191.3" stroke="#d0d0d0" stroke-width="0.7" fill="none"/>
<path d="M725.0 222.3 Q761.9 221.7 800.8 222.1" stroke="url(#sg)" stroke-width="1.7" fill="none"/>
<path d="M752.4 200.7 L752.4 186.1 L789.8 186.1" stroke="#a8a8a8" stroke-width="0.9" fill="none"/>
<path d="M733.0 200.7 L752.4 200.7" stroke="#a0a0a0" stroke-width="0.9" fill="none"/>
<path d="M752.4 200.7 L790.8 200.7" stroke="#86a876" stroke-width="1.1" fill="none"/>
<path d="M735.0 217.0 Q733.0 217.0 733.0 215.0 L733.0 202.2 Q733.5 200.4 737.0 199.7 C743.0 198.5 750.4 191.8 758.4 187.3 Q762.4 185.8 768.4 185.8 L789.8 185.8 Q790.8 186.3 790.8 188.8 L790.8 215.0 Q790.8 217.0 788.8 217.0 Z" stroke="#8c8c8c" stroke-width="1.25" fill="none"/>
<path d="M735.9 217.0 A5.6 5.6 0 0 1 747.1 217.0" stroke="#8c8c8c" stroke-width="1.05" fill="none"/>
<path d="M735.9 217.0 A5.6 5.6 0 0 0 747.1 217.0" stroke="#dcdcdc" stroke-width="0.7" fill="none"/>
<path d="M777.4 217.0 A5.6 5.6 0 0 1 788.6 217.0" stroke="#8c8c8c" stroke-width="1.05" fill="none"/>
<path d="M777.4 217.0 A5.6 5.6 0 0 0 788.6 217.0" stroke="#dcdcdc" stroke-width="0.7" fill="none"/>
<path d="M727.0 209.7 L743.0 198.7" stroke="#cacaca" stroke-width="0.7" fill="none"/>
<path d="M747.0 189.8 L756.4 187.3" stroke="#d2d2d2" stroke-width="0.7" fill="none"/>
<path d="M787.8 180.8 L790.8 191.8" stroke="#d0d0d0" stroke-width="0.7" fill="none"/>
<path d="M809.3 219.6 Q846.3 219.0 885.4 219.4" stroke="url(#sg)" stroke-width="1.7" fill="none"/>
<path d="M837.6 197.4 L837.6 184.8 L874.4 184.8" stroke="#a8a8a8" stroke-width="0.9" fill="none"/>
<path d="M817.3 197.4 L837.6 197.4" stroke="#a0a0a0" stroke-width="0.9" fill="none"/>
<path d="M837.6 197.4 L875.4 197.4" stroke="#86a876" stroke-width="1.1" fill="none"/>
<path d="M833.6 197.9 Q856.5 194.6 875.4 190.4" stroke="#909090" stroke-width="1" fill="none"/>
<path d="M819.3 214.3 Q817.3 214.3 817.3 212.3 L817.3 198.9 Q817.8 197.1 821.3 196.4 C827.3 195.2 835.6 190.5 843.6 186.0 Q847.6 184.5 853.6 184.5 L874.4 184.5 Q875.4 185.0 875.4 187.5 L875.4 212.3 Q875.4 214.3 873.4 214.3 Z" stroke="#8c8c8c" stroke-width="1.25" fill="none"/>
<path d="M820.2 214.3 A5.6 5.6 0 0 1 831.4 214.3" stroke="#8c8c8c" stroke-width="1.05" fill="none"/>
<path d="M820.2 214.3 A5.6 5.6 0 0 0 831.4 214.3" stroke="#dcdcdc" stroke-width="0.7" fill="none"/>
<path d="M862.0 214.3 A5.6 5.6 0 0 1 873.2 214.3" stroke="#8c8c8c" stroke-width="1.05" fill="none"/>
<path d="M862.0 214.3 A5.6 5.6 0 0 0 873.2 214.3" stroke="#dcdcdc" stroke-width="0.7" fill="none"/>
<path d="M811.3 206.4 L827.3 195.4" stroke="#cacaca" stroke-width="0.7" fill="none"/>
<path d="M831.3 188.5 L841.6 186.0" stroke="#d2d2d2" stroke-width="0.7" fill="none"/>
<path d="M872.4 179.5 L875.4 190.5" stroke="#d0d0d0" stroke-width="0.7" fill="none"/>
<path d="M630.9 275.0 Q669.0 274.4 709.0 274.8" stroke="url(#sg)" stroke-width="1.7" fill="none"/>
<path d="M659.2 252.8 L659.2 238.8 L698.0 238.8" stroke="#a8a8a8" stroke-width="0.9" fill="none"/>
<path d="M638.9 252.8 L659.2 252.8" stroke="#a0a0a0" stroke-width="0.9" fill="none"/>
<path d="M659.2 252.8 L699.0 252.8" stroke="#86a876" stroke-width="1.1" fill="none"/>
<path d="M655.2 253.3 Q679.1 249.2 699.0 243.8" stroke="#909090" stroke-width="1" fill="none"/>
<path d="M640.9 269.7 Q638.9 269.7 638.9 267.7 L638.9 254.3 Q639.4 252.5 642.9 251.8 C648.9 250.6 657.2 244.5 665.2 240.0 Q669.2 238.5 675.2 238.5 L698.0 238.5 Q699.0 239.0 699.0 241.5 L699.0 267.7 Q699.0 269.7 697.0 269.7 Z" stroke="#8c8c8c" stroke-width="1.25" fill="none"/>
<path d="M641.8 269.7 A5.6 5.6 0 0 1 653.0 269.7" stroke="#8c8c8c" stroke-width="1.05" fill="none"/>
<path d="M641.8 269.7 A5.6 5.6 0 0 0 653.0 269.7" stroke="#dcdcdc" stroke-width="0.7" fill="none"/>
<path d="M685.6 269.7 A5.6 5.6 0 0 1 696.8 269.7" stroke="#8c8c8c" stroke-width="1.05" fill="none"/>
<path d="M685.6 269.7 A5.6 5.6 0 0 0 696.8 269.7" stroke="#dcdcdc" stroke-width="0.7" fill="none"/>
<path d="M632.9 261.8 L648.9 250.8" stroke="#cacaca" stroke-width="0.7" fill="none"/>
<path d="M652.9 242.5 L663.2 240.0" stroke="#d2d2d2" stroke-width="0.7" fill="none"/>
<path d="M696.0 233.5 L699.0 244.5" stroke="#d0d0d0" stroke-width="0.7" fill="none"/>
<path d="M722.8 274.5 Q760.8 273.9 800.8 274.3" stroke="url(#sg)" stroke-width="1.7" fill="none"/>
<path d="M752.4 250.1 L752.4 236.9 L789.8 236.9" stroke="#a8a8a8" stroke-width="0.9" fill="none"/>
<path d="M730.8 250.1 L752.4 250.1" stroke="#a0a0a0" stroke-width="0.9" fill="none"/>
<path d="M752.4 250.1 L790.8 250.1" stroke="#86a876" stroke-width="1.1" fill="none"/>
<path d="M748.4 250.6 Q771.6 248.1 790.8 245.1" stroke="#909090" stroke-width="1" fill="none"/>
<path d="M732.8 269.2 Q730.8 269.2 730.8 267.2 L730.8 251.6 Q731.3 249.8 734.8 249.1 C740.8 247.9 750.4 242.6 758.4 238.1 Q762.4 236.6 768.4 236.6 L789.8 236.6 Q790.8 237.1 790.8 239.6 L790.8 267.2 Q790.8 269.2 788.8 269.2 Z" stroke="#8c8c8c" stroke-width="1.25" fill="none"/>
<path d="M733.7 269.2 A5.6 5.6 0 0 1 744.9 269.2" stroke="#8c8c8c" stroke-width="1.05" fill="none"/>
<path d="M733.7 269.2 A5.6 5.6 0 0 0 744.9 269.2" stroke="#dcdcdc" stroke-width="0.7" fill="none"/>
<path d="M777.4 269.2 A5.6 5.6 0 0 1 788.6 269.2" stroke="#8c8c8c" stroke-width="1.05" fill="none"/>
<path d="M777.4 269.2 A5.6 5.6 0 0 0 788.6 269.2" stroke="#dcdcdc" stroke-width="0.7" fill="none"/>
<path d="M724.8 259.1 L740.8 248.1" stroke="#cacaca" stroke-width="0.7" fill="none"/>
<path d="M744.8 240.6 L756.4 238.1" stroke="#d2d2d2" stroke-width="0.7" fill="none"/>
<path d="M787.8 231.6 L790.8 242.6" stroke="#d0d0d0" stroke-width="0.7" fill="none"/>
<path d="M808.0 272.3 Q845.0 271.7 884.0 272.1" stroke="url(#sg)" stroke-width="1.7" fill="none"/>
<path d="M838.4 248.8 L838.4 235.6 L873.0 235.6" stroke="#a8a8a8" stroke-width="0.9" fill="none"/>
<path d="M816.0 248.8 L838.4 248.8" stroke="#a0a0a0" stroke-width="0.9" fill="none"/>
<path d="M838.4 248.8 L874.0 248.8" stroke="#86a876" stroke-width="1.1" fill="none"/>
<path d="M834.4 249.3 Q856.2 245.6 874.0 240.8" stroke="#909090" stroke-width="1" fill="none"/>
<path d="M818.0 267.0 Q816.0 267.0 816.0 265.0 L816.0 250.3 Q816.5 248.5 820.0 247.8 C826.0 246.6 836.4 241.3 844.4 236.8 Q848.4 235.3 854.4 235.3 L873.0 235.3 Q874.0 235.8 874.0 238.3 L874.0 265.0 Q874.0 267.0 872.0 267.0 Z" stroke="#8c8c8c" stroke-width="1.25" fill="none"/>
<path d="M818.9 267.0 A5.6 5.6 0 0 1 830.1 267.0" stroke="#8c8c8c" stroke-width="1.05" fill="none"/>
<path d="M818.9 267.0 A5.6 5.6 0 0 0 830.1 267.0" stroke="#dcdcdc" stroke-width="0.7" fill="none"/>
<path d="M860.6 267.0 A5.6 5.6 0 0 1 871.8 267.0" stroke="#8c8c8c" stroke-width="1.05" fill="none"/>
<path d="M860.6 267.0 A5.6 5.6 0 0 0 871.8 267.0" stroke="#dcdcdc" stroke-width="0.7" fill="none"/>
<path d="M810.0 257.8 L826.0 246.8" stroke="#cacaca" stroke-width="0.7" fill="none"/>
<path d="M830.0 239.3 L842.4 236.8" stroke="#d2d2d2" stroke-width="0.7" fill="none"/>
<path d="M871.0 230.3 L874.0 241.3" stroke="#d0d0d0" stroke-width="0.7" fill="none"/>
</g>
<path d="M551.5 481.5 Q553 479.5 555 480.5" stroke="#999" stroke-width="1" fill="none"/>
<linearGradient id="gg0" gradientUnits="userSpaceOnUse" x1="143" y1="0" x2="377" y2="0"><stop offset="0" stop-color="#4a4c5e" stop-opacity="0.3"/><stop offset="0.12" stop-color="#4a4c5e" stop-opacity="0.8"/><stop offset="0.6" stop-color="#444658" stop-opacity="0.9"/><stop offset="0.9" stop-color="#4a4c5e" stop-opacity="0.65"/><stop offset="1" stop-color="#4a4c5e" stop-opacity="0.12"/></linearGradient>
<path d="M143.0 461.0 Q260.0 460.0 377.0 460.6" stroke="url(#gg0)" stroke-width="2.2" fill="none"/>
<path d="M161.9 419.2 Q168 415.5 173.8 412.8" stroke="#9c9ca6" stroke-width="0.9" fill="none"/>
<path d="M159.5 438.2 Q180 419 202.5 402.5" stroke="#9c9ca6" stroke-width="0.9" fill="none"/>
<path d="M172.7 413.6 L172.7 385 M171.3 388 L172.7 385 L174 388" stroke="#9c9ca6" stroke-width="0.9" fill="none"/>
<path d="M206.4 377 Q216 374.5 227.9 373.8 Q236 372 245 370" stroke="#9c9ca6" stroke-width="0.9" fill="none"/>
<path d="M317.3 347.8 Q322 354 326 362.6 Q329 370 332 376.5 Q336 382 339 386" stroke="#9c9ca6" stroke-width="0.9" fill="none"/>
<path d="M325 362 L346 362.5" stroke="#9c9ca6" stroke-width="0.9" fill="none"/>
<path d="M184.0 443.8 A16.3 16.3 0 0 1 216.6 443.8" stroke="#5a5c6c" stroke-width="1.05" fill="none"/>
<path d="M184.0 443.8 A16.3 16.3 0 0 0 216.6 443.8" stroke="#b6b6bc" stroke-width="0.9" fill="none"/>
<path d="M200.3 426.0 L200.3 430.0" stroke="#4a4c5e" stroke-width="1.3"/>
<circle cx="187.8" cy="433.3" r="1" fill="#55576a"/>
<circle cx="212.8" cy="433.3" r="1" fill="#55576a"/>
<path d="M304.5 443.8 A16.3 16.3 0 0 1 337.1 443.8" stroke="#5a5c6c" stroke-width="1.05" fill="none"/>
<path d="M304.5 443.8 A16.3 16.3 0 0 0 337.1 443.8" stroke="#b6b6bc" stroke-width="0.9" fill="none"/>
<path d="M320.8 426.0 L320.8 430.0" stroke="#4a4c5e" stroke-width="1.3"/>
<circle cx="308.3" cy="433.3" r="1" fill="#55576a"/>
<circle cx="333.3" cy="433.3" r="1" fill="#55576a"/>
<path d="M311.8 443.8 Q320.8 442.3 329.8 443.8" stroke="#5a5c6e" stroke-width="1.3" fill="none"/>
<path d="M320.8 439.8 L320.8 445.8" stroke="#9a9aa4" stroke-width="0.8"/>
<path d="M176 445.7 L176 400.4 L342.4 400.4 L342.4 445.7 Z" stroke="#5f9a48" stroke-width="1.05" fill="none"/>
<path d="M226.8 400.4 L226.8 363.6 L335.5 363.6 L335.5 400.4" stroke="#5f9a48" stroke-width="1.05" fill="none"/>
<path d="M176 400.4 L342.4 400.4" stroke="#58a040" stroke-width="1.55" fill="none"/>
<path d="M184.2 449.4 Q178 447.5 175.4 446.2 L174.5 425 Q174.2 414 178 410.4 Q181 407 186.6 405.6 Q195 402.5 202.5 400.6 Q208 398.5 211.2 396.9 Q218 391 226.3 385 Q236 377 245.4 370.7 Q252 366.5 261.3 365.1 Q285 361.5 306 361.2 Q318 361.2 325.1 361.7 Q328 362.5 330.3 365.2 Q334 371 336.4 380 Q339 390 339.9 399 Q341.5 408 341.6 418 L341.6 444 Q340.5 448.5 338.1 450.2" stroke="#3a3d5e" stroke-width="1.15" fill="none" stroke-linecap="round" stroke-linejoin="round"/>
<path d="M186 445.5 Q230 444.8 270 447.3 Q300 448.8 338 450" stroke="#3a3d5e" stroke-width="1.15" fill="none" stroke-linecap="round" stroke-linejoin="round"/>
<linearGradient id="gg1" gradientUnits="userSpaceOnUse" x1="376" y1="0" x2="611" y2="0"><stop offset="0" stop-color="#4a4c5e" stop-opacity="0.3"/><stop offset="0.12" stop-color="#4a4c5e" stop-opacity="0.8"/><stop offset="0.6" stop-color="#444658" stop-opacity="0.9"/><stop offset="0.9" stop-color="#4a4c5e" stop-opacity="0.65"/><stop offset="1" stop-color="#4a4c5e" stop-opacity="0.12"/></linearGradient>
<path d="M376.0 459.6 Q493.5 458.6 611.0 459.2" stroke="url(#gg1)" stroke-width="2.2" fill="none"/>
<path d="M389 420 Q410 408 433 400" stroke="#9c9ca6" stroke-width="0.9" fill="none"/>
<path d="M391 433 Q415 415 445 397" stroke="#9c9ca6" stroke-width="0.9" fill="none"/>
<path d="M408.5 382 L407.5 450" stroke="#9c9ca6" stroke-width="0.9" fill="none"/>
<path d="M443 376 Q462 370 485 368" stroke="#9c9ca6" stroke-width="0.9" fill="none"/>
<path d="M551.4 346.9 Q564 355 572.2 367.1 Q578 380 582.1 394.2 Q585 415 584.8 437.5" stroke="#9c9ca6" stroke-width="0.9" fill="none"/>
<path d="M480 408 Q530 400 575.8 392.3" stroke="#9c9ca6" stroke-width="0.9" fill="none"/>
<path d="M560 362 L577.6 363.1" stroke="#9c9ca6" stroke-width="0.9" fill="none"/>
<path d="M419.3 443.2 A16.5 16.5 0 0 1 452.3 443.2" stroke="#5a5c6c" stroke-width="1.05" fill="none"/>
<path d="M419.3 443.2 A16.5 16.5 0 0 0 452.3 443.2" stroke="#b6b6bc" stroke-width="0.9" fill="none"/>
<path d="M435.8 425.2 L435.8 429.2" stroke="#4a4c5e" stroke-width="1.3"/>
<circle cx="423.2" cy="432.6" r="1" fill="#55576a"/>
<circle cx="448.4" cy="432.6" r="1" fill="#55576a"/>
<path d="M539.7 443.2 A16.5 16.5 0 0 1 572.7 443.2" stroke="#5a5c6c" stroke-width="1.05" fill="none"/>
<path d="M539.7 443.2 A16.5 16.5 0 0 0 572.7 443.2" stroke="#b6b6bc" stroke-width="0.9" fill="none"/>
<path d="M556.2 425.2 L556.2 429.2" stroke="#4a4c5e" stroke-width="1.3"/>
<circle cx="543.6" cy="432.6" r="1" fill="#55576a"/>
<circle cx="568.8" cy="432.6" r="1" fill="#55576a"/>
<path d="M547.2 443.2 Q556.2 441.7 565.2 443.2" stroke="#5a5c6e" stroke-width="1.3" fill="none"/>
<path d="M556.2 439.2 L556.2 445.2" stroke="#9a9aa4" stroke-width="0.8"/>
<path d="M411 444.4 L411 402 L575 402 L575 444.4 Z" stroke="#5f9a48" stroke-width="1.05" fill="none"/>
<path d="M464.9 402 L464.9 364.4 L570 364.4 L570 402" stroke="#5f9a48" stroke-width="1.05" fill="none"/>
<path d="M411 402 L575 402" stroke="#58a040" stroke-width="1.55" fill="none"/>
<path d="M413.5 446.5 Q411 445 410.8 443 L409.5 425 Q409.5 416 411.5 411.9 Q422 407 433.6 402 Q450 391.5 465.4 380.8 Q480 371 494.3 364.9 Q505 363.5 518 362 Q532 361.2 545.1 361.3 L561.4 361.7 Q566 364 568.6 368.9 Q572 378 574 386.9 L575.8 392.3 Q573.5 395 573.6 397.8 Q575 405 574.9 412.2 L575 442.9 Q574 445 572.2 445.6" stroke="#3a3d5e" stroke-width="1.15" fill="none" stroke-linecap="round" stroke-linejoin="round"/>
<path d="M418 445.5 Q470 445 500 446.5 Q530 447 572 445.6" stroke="#3a3d5e" stroke-width="1.15" fill="none" stroke-linecap="round" stroke-linejoin="round"/>
<linearGradient id="gg2" gradientUnits="userSpaceOnUse" x1="625" y1="0" x2="849" y2="0"><stop offset="0" stop-color="#4a4c5e" stop-opacity="0.3"/><stop offset="0.12" stop-color="#4a4c5e" stop-opacity="0.8"/><stop offset="0.6" stop-color="#444658" stop-opacity="0.9"/><stop offset="0.9" stop-color="#4a4c5e" stop-opacity="0.65"/><stop offset="1" stop-color="#4a4c5e" stop-opacity="0.12"/></linearGradient>
<path d="M625.0 459.3 Q737.0 458.3 849.0 458.9" stroke="url(#gg2)" stroke-width="2.2" fill="none"/>
<path d="M635.5 421.5 Q670 403 710 389" stroke="#9c9ca6" stroke-width="0.9" fill="none"/>
<path d="M654 415 L653 390 M651.5 393 L653 390 L655 393" stroke="#9c9ca6" stroke-width="0.9" fill="none"/>
<path d="M705 410 Q730 404 760 400" stroke="#9c9ca6" stroke-width="0.9" fill="none"/>
<path d="M794.4 342.5 Q796 341 798.2 343.4 Q801 349 803.8 355.7 Q810 368 817 381.9 Q820 389 822.6 397 Q827 412 829.7 430.7" stroke="#9c9ca6" stroke-width="0.9" fill="none"/>
<path d="M666.6 442.3 A16.3 16.3 0 0 1 699.2 442.3" stroke="#5a5c6c" stroke-width="1.05" fill="none"/>
<path d="M666.6 442.3 A16.3 16.3 0 0 0 699.2 442.3" stroke="#b6b6bc" stroke-width="0.9" fill="none"/>
<path d="M682.9 424.5 L682.9 428.5" stroke="#4a4c5e" stroke-width="1.3"/>
<circle cx="670.4" cy="431.8" r="1" fill="#55576a"/>
<circle cx="695.4" cy="431.8" r="1" fill="#55576a"/>
<path d="M786.2 442.3 A16.3 16.3 0 0 1 818.8 442.3" stroke="#5a5c6c" stroke-width="1.05" fill="none"/>
<path d="M786.2 442.3 A16.3 16.3 0 0 0 818.8 442.3" stroke="#b6b6bc" stroke-width="0.9" fill="none"/>
<path d="M802.5 424.5 L802.5 428.5" stroke="#4a4c5e" stroke-width="1.3"/>
<circle cx="790.0" cy="431.8" r="1" fill="#55576a"/>
<circle cx="815.0" cy="431.8" r="1" fill="#55576a"/>
<path d="M793.5 442.3 Q802.5 440.8 811.5 442.3" stroke="#5a5c6e" stroke-width="1.3" fill="none"/>
<path d="M802.5 438.3 L802.5 444.3" stroke="#9a9aa4" stroke-width="0.8"/>
<path d="M659.1 443.5 L659.1 399 L821.3 399 L821.3 443.5 Z" stroke="#5f9a48" stroke-width="1.05" fill="none"/>
<path d="M712.8 399 L712.8 359.6 L811.3 359.6 L811.3 399" stroke="#5f9a48" stroke-width="1.05" fill="none"/>
<path d="M659.1 399 L821.3 399" stroke="#58a040" stroke-width="1.55" fill="none"/>
<path d="M665.7 446.7 Q660 445.5 657.4 444.7 L655.5 419.8 Q655.8 414 657 411.5 Q659 408.5 663.2 406.5 Q668 402 674.9 398.2 Q686 391 696.5 384.9 Q705 379 713.1 374.9 Q722 369 733 364.1 Q741 361.5 750 360 Q755 359.5 758.8 358.5 Q768 356.5 777.5 355.6 L796.3 354.3 Q800 354.2 802.9 355.3 Q804.5 356.5 804.8 358.5 Q808 365 811.3 372.5 Q814 378.5 817 383.8 L821.1 389.4 Q819 392 818.8 395.1 Q819.5 402 819.8 410.1 L821.1 443.9 Q820.5 446 818.8 446.7" stroke="#3a3d5e" stroke-width="1.15" fill="none" stroke-linecap="round" stroke-linejoin="round"/>
<path d="M740 401.6 Q760 398 777.5 395.1 Q800 391.5 821.1 389.4" stroke="#3a3d5e" stroke-width="1.15" fill="none" stroke-linecap="round" stroke-linejoin="round"/>
<path d="M668 445 Q720 444.5 740 445.8 Q770 446.8 818 446.5" stroke="#3a3d5e" stroke-width="1.15" fill="none" stroke-linecap="round" stroke-linejoin="round"/>
<linearGradient id="gg3" gradientUnits="userSpaceOnUse" x1="151" y1="0" x2="378" y2="0"><stop offset="0" stop-color="#4a4c5e" stop-opacity="0.3"/><stop offset="0.12" stop-color="#4a4c5e" stop-opacity="0.8"/><stop offset="0.6" stop-color="#444658" stop-opacity="0.9"/><stop offset="0.9" stop-color="#4a4c5e" stop-opacity="0.65"/><stop offset="1" stop-color="#4a4c5e" stop-opacity="0.12"/></linearGradient>
<path d="M151.0 651.9 Q264.5 650.9 378.0 651.5" stroke="url(#gg3)" stroke-width="2.2" fill="none"/>
<path d="M164.7 617.2 Q178 610 191.6 604.2" stroke="#9c9ca6" stroke-width="0.9" fill="none"/>
<path d="M209 601.6 Q214 598 219.4 595.5" stroke="#9c9ca6" stroke-width="0.9" fill="none"/>
<path d="M224.6 566 Q245 562.5 269.6 560.8" stroke="#9c9ca6" stroke-width="0.9" fill="none"/>
<path d="M341.4 538.5 Q344 545 347 552.6 Q350 570 350.8 586.4 Q352 610 351.8 633.4" stroke="#9c9ca6" stroke-width="0.9" fill="none"/>
<path d="M340 558.5 Q350 559 360.2 560" stroke="#9c9ca6" stroke-width="0.9" fill="none"/>
<path d="M193.3 634.6 A15.7 15.7 0 0 1 224.7 634.6" stroke="#5a5c6c" stroke-width="1.05" fill="none"/>
<path d="M193.3 634.6 A15.7 15.7 0 0 0 224.7 634.6" stroke="#b6b6bc" stroke-width="0.9" fill="none"/>
<path d="M209.0 617.4 L209.0 621.4" stroke="#4a4c5e" stroke-width="1.3"/>
<circle cx="197.0" cy="624.5" r="1" fill="#55576a"/>
<circle cx="221.0" cy="624.5" r="1" fill="#55576a"/>
<path d="M312.6 634.6 A15.7 15.7 0 0 1 344.0 634.6" stroke="#5a5c6c" stroke-width="1.05" fill="none"/>
<path d="M312.6 634.6 A15.7 15.7 0 0 0 344.0 634.6" stroke="#b6b6bc" stroke-width="0.9" fill="none"/>
<path d="M328.3 617.4 L328.3 621.4" stroke="#4a4c5e" stroke-width="1.3"/>
<circle cx="316.3" cy="624.5" r="1" fill="#55576a"/>
<circle cx="340.3" cy="624.5" r="1" fill="#55576a"/>
<path d="M319.3 634.6 Q328.3 633.1 337.3 634.6" stroke="#5a5c6e" stroke-width="1.3" fill="none"/>
<path d="M328.3 630.6 L328.3 636.6" stroke="#9a9aa4" stroke-width="0.8"/>
<path d="M186.2 637.1 L186.2 597.6 L348.6 597.6 L348.6 637.1 Z" stroke="#5f9a48" stroke-width="1.05" fill="none"/>
<path d="M242 597.6 L242 558.8 L347.1 558.8 L347.1 597.6" stroke="#5f9a48" stroke-width="1.05" fill="none"/>
<path d="M186.2 597.6 L348.6 597.6" stroke="#58a040" stroke-width="1.55" fill="none"/>
<path d="M191.6 639.7 Q188.5 638.5 187.3 637.1 L186 612.8 Q186.5 609.5 188.1 607.6 Q191 604 195.1 601.6 Q201 598.8 207.2 597.2 Q214 595.5 219.4 593.8 L222.8 592 Q232 585.5 241.9 579 Q250 573.5 257.5 569.5 Q264 565.5 270 563.8 Q277 561 285 559.7 Q296 558.4 307.6 558.2 L343.3 558.6 Q347 562 349 567.6 Q351.5 575 352.3 584.5 Q348 587.5 341.4 590.2 Q328 594 313.2 596.7" stroke="#3a3d5e" stroke-width="1.15" fill="none" stroke-linecap="round" stroke-linejoin="round"/>
<path d="M350.5 588 Q348 591 348 595.8 L348 635.3 Q347.5 638 346.1 639" stroke="#3a3d5e" stroke-width="1.15" fill="none" stroke-linecap="round" stroke-linejoin="round"/>
<path d="M192 636.5 Q230 636 270 638.5 Q310 640 346 639" stroke="#3a3d5e" stroke-width="1.15" fill="none" stroke-linecap="round" stroke-linejoin="round"/>
<linearGradient id="gg4" gradientUnits="userSpaceOnUse" x1="378" y1="0" x2="597" y2="0"><stop offset="0" stop-color="#4a4c5e" stop-opacity="0.3"/><stop offset="0.12" stop-color="#4a4c5e" stop-opacity="0.8"/><stop offset="0.6" stop-color="#444658" stop-opacity="0.9"/><stop offset="0.9" stop-color="#4a4c5e" stop-opacity="0.65"/><stop offset="1" stop-color="#4a4c5e" stop-opacity="0.12"/></linearGradient>
<path d="M378.0 652.6 Q487.5 651.6 597.0 652.2" stroke="url(#gg4)" stroke-width="2.2" fill="none"/>
<path d="M382.6 608.5 Q393 603.5 403.4 599.8" stroke="#9c9ca6" stroke-width="0.9" fill="none"/>
<path d="M381.7 619.8 Q400 606 423.3 591.2" stroke="#9c9ca6" stroke-width="0.9" fill="none"/>
<path d="M447.6 553 Q457 553.5 466.7 553.9" stroke="#9c9ca6" stroke-width="0.9" fill="none"/>
<path d="M549.1 537.5 Q560 573 570.7 608.8 Q572 620 572.6 629.5" stroke="#9c9ca6" stroke-width="0.9" fill="none"/>
<path d="M553.8 552.5 Q570 553.5 583.9 556.3" stroke="#9c9ca6" stroke-width="0.9" fill="none"/>
<path d="M490 586.3 Q520 585.5 548.2 584.4" stroke="#9c9ca6" stroke-width="0.9" fill="none"/>
<path d="M410.3 635.5 A15.7 15.7 0 0 1 441.7 635.5" stroke="#5a5c6c" stroke-width="1.05" fill="none"/>
<path d="M410.3 635.5 A15.7 15.7 0 0 0 441.7 635.5" stroke="#b6b6bc" stroke-width="0.9" fill="none"/>
<path d="M426.0 618.3 L426.0 622.3" stroke="#4a4c5e" stroke-width="1.3"/>
<circle cx="414.0" cy="625.4" r="1" fill="#55576a"/>
<circle cx="438.0" cy="625.4" r="1" fill="#55576a"/>
<path d="M530.3 635.5 A15.7 15.7 0 0 1 561.7 635.5" stroke="#5a5c6c" stroke-width="1.05" fill="none"/>
<path d="M530.3 635.5 A15.7 15.7 0 0 0 561.7 635.5" stroke="#b6b6bc" stroke-width="0.9" fill="none"/>
<path d="M546.0 618.3 L546.0 622.3" stroke="#4a4c5e" stroke-width="1.3"/>
<circle cx="534.0" cy="625.4" r="1" fill="#55576a"/>
<circle cx="558.0" cy="625.4" r="1" fill="#55576a"/>
<path d="M537.0 635.5 Q546.0 634.0 555.0 635.5" stroke="#5a5c6e" stroke-width="1.3" fill="none"/>
<path d="M546.0 631.5 L546.0 637.5" stroke="#9a9aa4" stroke-width="0.8"/>
<path d="M403.4 638.3 L403.4 589.1 L570.3 589.1 L570.3 638.3 Z" stroke="#5f9a48" stroke-width="1.05" fill="none"/>
<path d="M466.4 589.1 L466.4 552 L564.7 552 L564.7 589.1" stroke="#5f9a48" stroke-width="1.05" fill="none"/>
<path d="M403.4 589.1 L570.3 589.1" stroke="#58a040" stroke-width="1.55" fill="none"/>
<path d="M409.5 640.2 Q404 639 400.8 638 L404 630.2 L401.5 621.5 L401 605.9 Q401.2 602 402 600.7 Q403 599 404.3 598.1 Q414 593 423.3 588.6 Q432 585.5 440.7 582.5 L443.3 581.3 Q455 573.5 466.7 566 Q480 558.5 492.7 551.8 Q505 551.2 518.2 551 L553.8 551.6 L563.2 552.2" stroke="#3a3d5e" stroke-width="1.15" fill="none" stroke-linecap="round" stroke-linejoin="round"/>
<path d="M555.7 552.5 Q560 568 565.1 584.4 L567 590 Q569 596 569.8 603.2 L569.8 637 Q567.5 640 564.2 640.8" stroke="#3a3d5e" stroke-width="1.15" fill="none" stroke-linecap="round" stroke-linejoin="round"/>
<path d="M410 639 Q460 639.5 500 639.7 Q530 640 564 640.5" stroke="#3a3d5e" stroke-width="1.15" fill="none" stroke-linecap="round" stroke-linejoin="round"/>
<linearGradient id="gg5" gradientUnits="userSpaceOnUse" x1="620" y1="0" x2="845" y2="0"><stop offset="0" stop-color="#4a4c5e" stop-opacity="0.3"/><stop offset="0.12" stop-color="#4a4c5e" stop-opacity="0.8"/><stop offset="0.6" stop-color="#444658" stop-opacity="0.9"/><stop offset="0.9" stop-color="#4a4c5e" stop-opacity="0.65"/><stop offset="1" stop-color="#4a4c5e" stop-opacity="0.12"/></linearGradient>
<path d="M620.0 652.0 Q732.5 651.0 845.0 651.6" stroke="url(#gg5)" stroke-width="2.2" fill="none"/>
<path d="M633.8 605.1 Q648 599 662.9 594.8" stroke="#9c9ca6" stroke-width="0.9" fill="none"/>
<path d="M646 623.9 Q668 600 693.8 582.6" stroke="#9c9ca6" stroke-width="0.9" fill="none"/>
<path d="M677 551.6 Q698 548.5 718.3 546.5" stroke="#9c9ca6" stroke-width="0.9" fill="none"/>
<path d="M708.9 628.6 Q740 627 772.9 629.5" stroke="#9c9ca6" stroke-width="0.9" fill="none"/>
<path d="M808.5 537.9 Q810.5 540 812.3 543.1 Q816 560 819.8 577 Q822 600 823.5 631.4" stroke="#9c9ca6" stroke-width="0.9" fill="none"/>
<path d="M662.7 634.4 A15.8 15.8 0 0 1 694.3 634.4" stroke="#5a5c6c" stroke-width="1.05" fill="none"/>
<path d="M662.7 634.4 A15.8 15.8 0 0 0 694.3 634.4" stroke="#b6b6bc" stroke-width="0.9" fill="none"/>
<path d="M678.5 617.1 L678.5 621.1" stroke="#4a4c5e" stroke-width="1.3"/>
<circle cx="666.4" cy="624.2" r="1" fill="#55576a"/>
<circle cx="690.6" cy="624.2" r="1" fill="#55576a"/>
<path d="M782.2 634.4 A15.8 15.8 0 0 1 813.8 634.4" stroke="#5a5c6c" stroke-width="1.05" fill="none"/>
<path d="M782.2 634.4 A15.8 15.8 0 0 0 813.8 634.4" stroke="#b6b6bc" stroke-width="0.9" fill="none"/>
<path d="M798.0 617.1 L798.0 621.1" stroke="#4a4c5e" stroke-width="1.3"/>
<circle cx="785.9" cy="624.2" r="1" fill="#55576a"/>
<circle cx="810.1" cy="624.2" r="1" fill="#55576a"/>
<path d="M789.0 634.4 Q798.0 632.9 807.0 634.4" stroke="#5a5c6e" stroke-width="1.3" fill="none"/>
<path d="M798.0 630.4 L798.0 636.4" stroke="#9a9aa4" stroke-width="0.8"/>
<path d="M655.9 636.4 L655.9 586 L818.5 586 L818.5 636.4 Z" stroke="#5f9a48" stroke-width="1.05" fill="none"/>
<path d="M717.9 586 L717.9 546.4 L813.8 546.4 L813.8 586" stroke="#5f9a48" stroke-width="1.05" fill="none"/>
<path d="M655.9 586 L818.5 586" stroke="#58a040" stroke-width="1.55" fill="none"/>
<path d="M661 639.9 Q656.5 638.5 654.4 637 L653.5 620.1 L653 605.1 Q653.5 599 656.3 595.7 Q661 592.5 667.6 591 Q678 587 688.2 582.6 L694.8 580.7 Q706 572 718.3 563.8 Q734 555 750 547.8 Q752 547.5 753.1 547.8 Q760 546.5 768.2 546 L807.6 546 Q810.5 547.5 812.3 550.6 Q815 557 816 563.8 L817 572.2 Q807 575 796.3 577.9 Q785 582 773.8 586 Q764 588.5 755 590.1" stroke="#3a3d5e" stroke-width="1.15" fill="none" stroke-linecap="round" stroke-linejoin="round"/>
<path d="M814.2 586.3 Q816 595 817 605 L817.9 635.1 Q816.5 638 814.2 638.9" stroke="#3a3d5e" stroke-width="1.15" fill="none" stroke-linecap="round" stroke-linejoin="round"/>
<path d="M661 637.5 Q700 637.5 750 638.5 Q790 639.5 814 639" stroke="#3a3d5e" stroke-width="1.15" fill="none" stroke-linecap="round" stroke-linejoin="round"/>
</svg>
</body></html>
